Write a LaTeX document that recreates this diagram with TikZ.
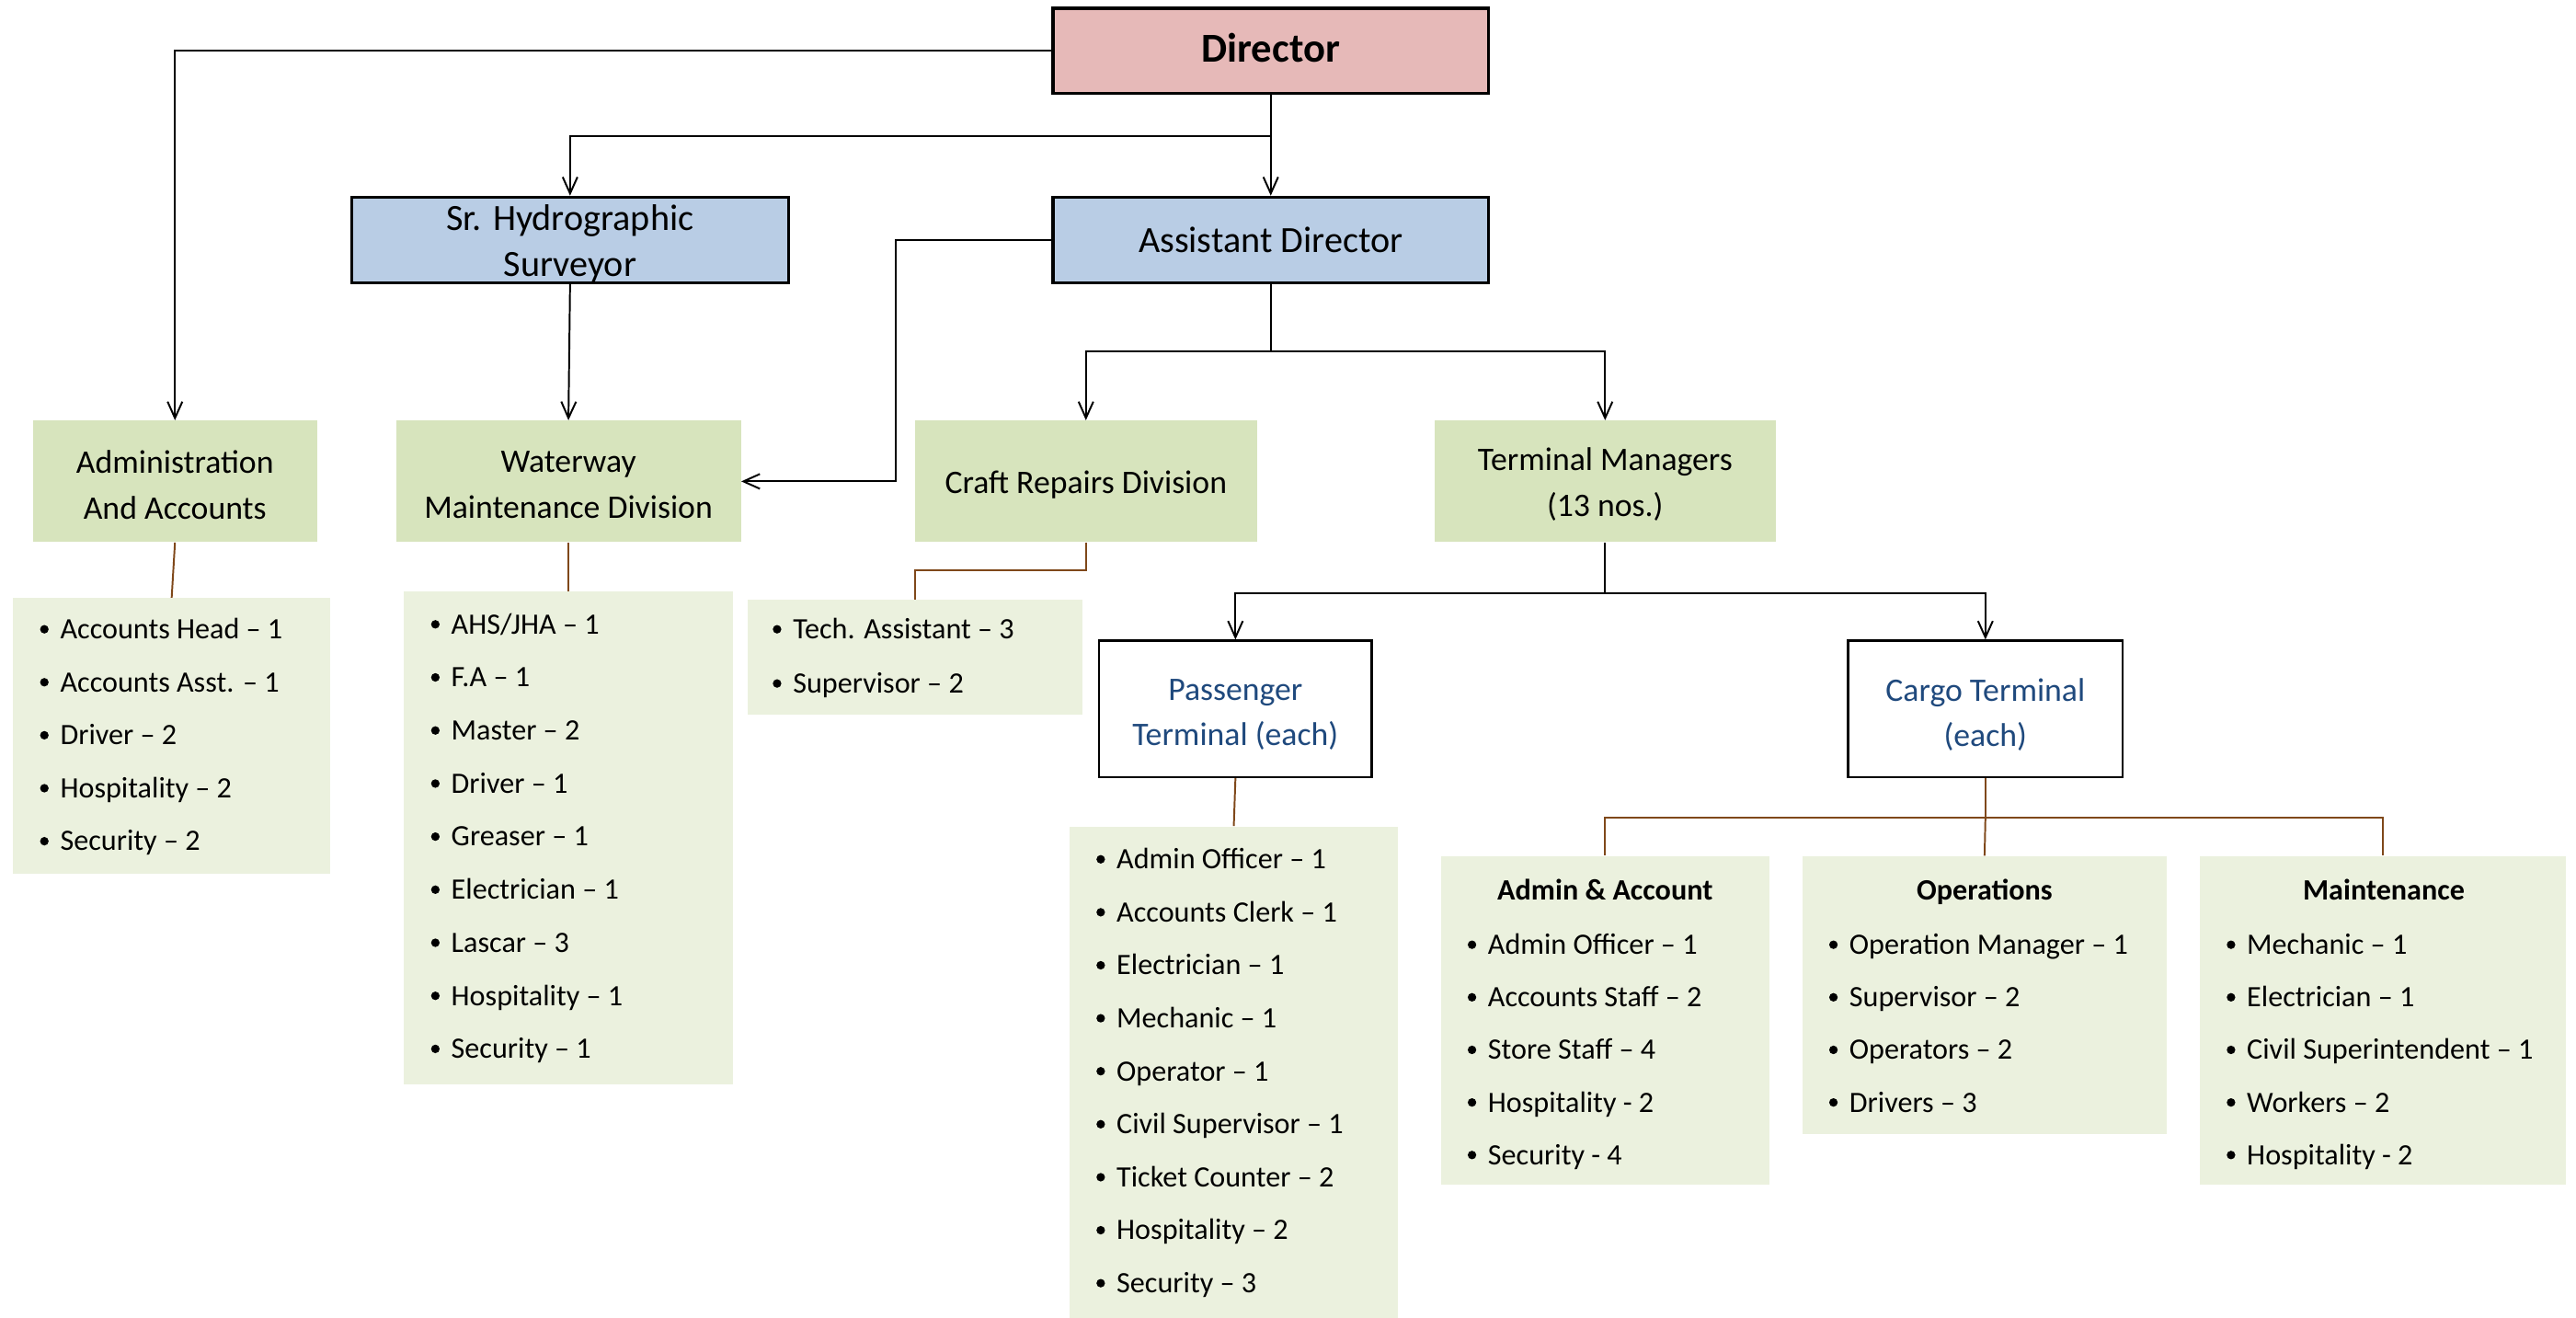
\documentclass[tikz,border=0pt]{standalone}
\usepackage{fontspec}
\setmainfont{Carlito}
\usetikzlibrary{arrows.meta}

\definecolor{dirpink}{HTML}{E6B9B8}
\definecolor{mgrblue}{HTML}{B9CDE5}
\definecolor{divgreen}{HTML}{D7E4BD}
\definecolor{listgreen}{HTML}{EBF1DE}
\definecolor{termblue}{HTML}{1F497D}
\definecolor{linkbrown}{RGB}{127,72,26}

\tikzset{
  headbox/.style={draw=black, line width=1.8pt, inner sep=0pt},
  headtext/.style={align=center, inner sep=0pt},
  divbox/.style={fill=divgreen, inner sep=0pt},
  divtext/.style={align=center, inner sep=0pt, font=\fontsize{20}{28}\selectfont},
  listbox/.style={fill=listgreen, inner sep=0pt},
  termbox/.style={draw=black, line width=1.4pt, fill=white, inner sep=0pt},
  termtext/.style={align=center, inner sep=0pt, text=termblue,
    font=\fontsize{20}{27}\selectfont},
  arr/.style={draw=black, line width=1.1pt, -{Straight Barb[length=10pt,width=9pt]}},
  plain/.style={draw=black, line width=1.1pt},
  brn/.style={draw=linkbrown, line width=1.1pt},
  bul/.style={circle, fill=black, inner sep=0pt, minimum size=5.2pt},
  itm/.style={inner sep=0pt, anchor=west, text height=11.6pt, text depth=0pt,
    font=\fontsize{18}{22}\selectfont},
  listhead/.style={inner sep=0pt, text height=11.6pt, text depth=0pt,
    font=\fontsize{18}{22}\selectfont\bfseries},
}

% bullet list: #1 name, #2 bullet x, #3 first row y, #4 row step, #5 entries
\newcommand\staffrows[5]{%
  \foreach \t [count=\i from 0] in {#5} {
    \node[bul] (#1-b\i) at (#2+3, #3+#4*\i) {};
    \node[itm] (#1-t\i) at (#2+12.5, #3+#4*\i) {\t};
  }%
}

\begin{document}
\begin{tikzpicture}[x=1pt, y=-1pt]
\useasboundingbox (0,0) rectangle (1568,802);

% top management
\node[headbox, fill=dirpink, minimum width=265pt, minimum height=52pt] (dir) at (773.5,31) {};
\node[headtext, font=\fontsize{25}{30}\selectfont\bfseries] (dir-t) at (773.5,29) {Director};
\node[headbox, fill=mgrblue, minimum width=266pt, minimum height=52pt] (sr) at (347,146) {};
\node[headtext, font=\fontsize{22.5}{28}\selectfont] (sr-t) at (347,148) {Sr. Hydrographic\\Surveyor};
\node[headbox, fill=mgrblue, minimum width=265pt, minimum height=52pt] (ad) at (773.5,146) {};
\node[headtext, font=\fontsize{22.5}{28}\selectfont] (ad-t) at (773.5,146) {Assistant Director};

% divisions
\node[divbox, minimum width=173pt, minimum height=74pt] (adm) at (106.5,293) {};
\node[divtext] (adm-t) at (106.5,295) {Administration\\And Accounts};
\node[divbox, minimum width=210pt, minimum height=74pt] (ww) at (346,293) {};
\node[divtext] (ww-t) at (346,295) {Waterway\\Maintenance Division};
\node[divbox, minimum width=208pt, minimum height=74pt] (craft) at (661,293) {};
\node[divtext] (craft-t) at (661,295) {Craft Repairs Division};
\node[divbox, minimum width=208pt, minimum height=74pt] (tm) at (977,293) {};
\node[divtext] (tm-t) at (977,295) {Terminal Managers\\(13 nos.)};

% terminals
\node[termbox, minimum width=166pt, minimum height=83pt] (pas) at (752,431.5) {};
\node[termtext] (pas-t) at (752,435) {Passenger\\Terminal (each)};
\node[termbox, minimum width=167pt, minimum height=83pt] (cargo) at (1208.5,431.5) {};
\node[termtext] (cargo-t) at (1208.5,435) {Cargo Terminal\\(each)};

% staff lists
\node[listbox, minimum width=193pt, minimum height=168pt] (admL) at (104.5,448) {};
\node[listbox, minimum width=200pt, minimum height=300pt] (wwL) at (346,510) {};
\node[listbox, minimum width=204pt, minimum height=70pt] (craftL) at (557,400) {};
\node[listbox, minimum width=200pt, minimum height=299pt] (pasL) at (751,652.5) {};
\node[listbox, minimum width=200pt, minimum height=200pt] (aaL) at (977,621) {};
\node[listbox, minimum width=222pt, minimum height=169pt] (opL) at (1208,605.5) {};
\node[listbox, minimum width=223pt, minimum height=200pt] (mtL) at (1450.5,621) {};

\staffrows{adm}{24}{383}{32.25}{Accounts Head – 1, Accounts Asst. – 1, Driver – 2, Hospitality – 2, Security – 2}
\staffrows{ww}{262}{380}{32.3}{AHS/JHA – 1, F.A – 1, Master – 2, Driver – 1, Greaser – 1, Electrician – 1, Lascar – 3, Hospitality – 1, Security – 1}
\staffrows{craft}{470}{383}{33}{Tech. Assistant – 3, Supervisor – 2}
\staffrows{pas}{667}{523}{32.25}{Admin Officer – 1, Accounts Clerk – 1, Electrician – 1, Mechanic – 1, Operator – 1, Civil Supervisor – 1, Ticket Counter – 2, Hospitality – 2, Security – 3}

\node[listhead] (aaH) at (977,542) {Admin \& Account};
\node[listhead] (opH) at (1208,542) {Operations};
\node[listhead] (mtH) at (1451,542) {Maintenance};
\staffrows{aa}{893}{575}{32}{Admin Officer – 1, Accounts Staff – 2, Store Staff – 4, Hospitality - 2, Security - 4}
\staffrows{op}{1113}{575}{32}{Operation Manager – 1, Supervisor – 2, Operators – 2, Drivers – 3}
\staffrows{mt}{1355}{575}{32}{Mechanic – 1, Electrician – 1, Civil Superintendent – 1, Workers – 2, Hospitality - 2}

% reporting lines
\draw[arr] (dir.west) -| (adm.north);
\draw[plain] (dir.south) -- ++(0,25) coordinate (j1);
\draw[arr] (j1) -| (sr.north);
\draw[arr] (j1) -- (ad.north);
\draw[arr] (sr.south) -- (ww.north);
\draw[arr] (ad.west) -- ++(-95,0) |- (ww.east);
\draw[plain] (ad.south) -- ++(0,41) coordinate (j2);
\draw[arr] (j2) -| (craft.north);
\draw[arr] (j2) -| (tm.north);
\draw[plain] (tm.south) -- ++(0,31) coordinate (j3);
\draw[arr] (j3) -| (pas.north);
\draw[arr] (j3) -| (cargo.north);

% links to staff lists
\draw[brn] (adm.south) -- (admL.north);
\draw[brn] (ww.south) -- (wwL.north);
\draw[brn] (craft.south) -- ++(0,17) -| (craftL.north);
\draw[brn] (pas.south) -- (pasL.north);
\draw[brn] (cargo.south) -- ++(0,24) coordinate (j4);
\draw[brn] (j4) -| (aaL.north);
\draw[brn] (j4) -| (mtL.north);
\draw[brn] (j4) -- (opL.north);
\end{tikzpicture}
\end{document}
